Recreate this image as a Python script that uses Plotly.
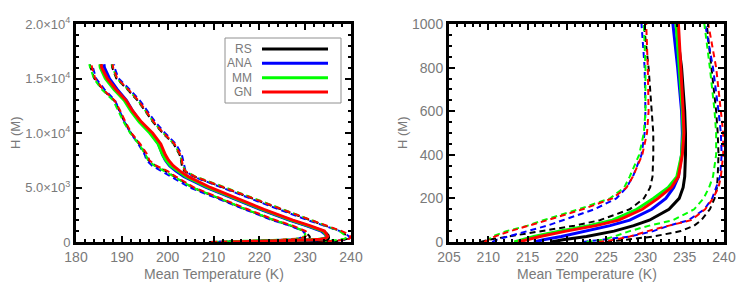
import plotly.graph_objects as go

# ---------------- data ----------------
heights = [0, 10, 25, 50, 75, 100, 150, 200, 250, 300, 400, 500, 600, 800, 1000,
           1500, 2000, 3000, 4000, 5000, 6000, 6500, 7000, 7500, 8000, 9000,
           10000, 11000, 12000, 13000, 14000, 15000, 16000, 16300]

models = ["RS", "ANA", "MM", "GN"]
colors = {"RS": "#000000", "ANA": "#0000ff", "MM": "#00ff00", "GN": "#ff0000"}

mean_RS = [218.0, 219.5, 222.5, 226.0, 228.5, 230.5, 233.0, 234.3, 234.8, 235.0, 235.1, 235.1, 235.0, 234.6, 233.9,
           230.5, 226.8, 220.5, 214.7, 208.7, 204.0, 202.2, 200.7, 199.8, 199.1, 198.1,
           196.3, 194.0, 192.2, 190.7, 188.5, 186.6, 185.5, 185.4]
mean_ANA = [215.8, 217.0, 219.3, 222.5, 225.5, 228.0, 230.8, 232.6, 233.6, 234.2, 234.6, 234.7, 234.6, 234.1, 233.5,
            230.2, 226.5, 220.2, 214.4, 208.4, 203.6, 201.8, 200.4, 199.5, 198.9, 198.0,
            196.3, 194.1, 192.4, 191.0, 189.0, 187.3, 186.2, 186.1]
mean_MM = [213.3, 214.2, 215.8, 219.0, 222.8, 225.8, 228.9, 231.0, 232.9, 234.0, 234.6, 234.8, 234.7, 234.3, 233.9,
           230.6, 226.9, 220.6, 214.8, 208.8, 204.0, 202.2, 200.6, 199.6, 198.9, 197.9,
           196.1, 193.8, 192.0, 190.5, 188.3, 186.4, 185.3, 185.2]
mean_GN = [213.8, 214.9, 216.6, 219.9, 223.7, 226.6, 229.6, 231.6, 233.3, 234.2, 234.7, 234.9, 234.8, 234.5, 234.2,
           231.0, 227.3, 221.0, 215.3, 209.3, 204.5, 202.7, 201.2, 200.2, 199.5, 198.5,
           196.7, 194.3, 192.4, 190.9, 188.7, 186.8, 185.6, 185.5]

low_RS = [209.0, 210.0, 212.5, 216.6, 221.0, 224.2, 228.0, 229.8, 230.6, 230.9, 231.0, 231.0, 230.8, 230.4, 229.8,
          226.8, 223.2, 217.0, 211.3, 205.4, 201.5, 199.6, 197.3, 195.8, 195.3, 193.8,
          192.0, 190.6, 189.5, 188.3, 185.8, 184.0, 183.2, 183.0]
low_ANA = [210.5, 211.0, 212.5, 215.0, 217.5, 219.5, 223.5, 226.3, 227.6, 228.4, 229.5, 229.9, 230.0, 229.9, 229.5,
           226.6, 222.8, 216.6, 210.8, 204.8, 200.6, 198.8, 196.6, 195.4, 195.0, 193.6,
           191.9, 190.6, 189.6, 188.5, 186.2, 184.4, 183.7, 183.6]
low_MM = [209.8, 210.0, 210.5, 212.3, 215.0, 217.0, 221.5, 225.5, 227.3, 228.0, 229.2, 229.8, 230.0, 230.0, 229.8,
          227.0, 223.3, 217.1, 211.4, 205.4, 201.4, 199.4, 197.1, 195.7, 195.2, 193.7,
          191.8, 190.4, 189.3, 188.1, 185.6, 183.9, 183.1, 182.9]
low_GN = [209.5, 210.0, 210.8, 212.8, 215.3, 217.5, 222.0, 225.8, 227.6, 228.4, 229.6, 230.2, 230.4, 230.3, 230.1,
          227.3, 223.6, 217.5, 211.8, 205.8, 201.8, 200.0, 197.5, 196.0, 195.6, 194.0,
          192.1, 190.8, 189.7, 188.4, 185.9, 184.2, 183.5, 183.4]

high_RS = [225.0, 227.5, 231.0, 234.5, 236.2, 237.1, 238.2, 238.8, 239.1, 239.2, 239.3, 239.2, 239.0, 238.4, 237.8,
           234.3, 231.0, 224.7, 218.4, 212.2, 205.8, 203.6, 203.1, 202.9, 202.6, 201.3,
           198.9, 196.8, 195.1, 193.4, 191.2, 188.8, 187.9, 187.8]
high_ANA = [222.0, 224.5, 228.0, 231.0, 233.0, 235.5, 237.5, 238.5, 239.0, 239.5, 239.7, 239.6, 239.3, 238.6, 237.6,
            234.0, 230.6, 224.2, 218.0, 211.8, 205.6, 203.9, 203.6, 203.4, 203.1, 201.8,
            199.4, 197.3, 195.6, 193.9, 191.7, 189.3, 188.4, 188.3]
high_MM = [222.5, 224.5, 226.0, 228.0, 230.5, 233.5, 236.2, 237.4, 238.1, 238.6, 239.0, 239.0, 238.8, 238.2, 237.5,
           234.5, 231.4, 225.1, 218.8, 212.6, 206.1, 203.9, 203.3, 203.0, 202.7, 201.4,
           199.0, 196.9, 195.2, 193.5, 191.3, 188.9, 188.0, 187.9]
high_GN = [224.0, 226.0, 228.0, 230.3, 233.0, 235.8, 237.6, 238.6, 239.3, 239.6, 239.9, 239.9, 239.6, 239.0, 238.0,
           234.6, 231.4, 225.0, 218.7, 212.5, 206.0, 203.8, 203.3, 203.1, 202.8, 201.5,
           199.1, 197.0, 195.3, 193.6, 191.4, 189.0, 188.1, 188.0]

means = {"RS": mean_RS, "ANA": mean_ANA, "MM": mean_MM, "GN": mean_GN}
lows = {"RS": low_RS, "ANA": low_ANA, "MM": low_MM, "GN": low_GN}
highs = {"RS": high_RS, "ANA": high_ANA, "MM": high_MM, "GN": high_GN}

left_xticks = [180, 190, 200, 210, 220, 230, 240]
left_yticks = [0, 5000, 10000, 15000, 20000]
left_ytext = ["0", "5.0×10<sup>3</sup>", "1.0×10<sup>4</sup>", "1.5×10<sup>4</sup>", "2.0×10<sup>4</sup>"]
right_xticks = [205, 210, 215, 220, 225, 230, 235, 240]
right_yticks = [0, 200, 400, 600, 800, 1000]

# ---------------- figure ----------------
OFF = 8                       # page body margin of the html page
W, H = 747 - OFF, 291 - OFF
FONT = "Liberation Sans, Arial, sans-serif"
GRAY = "#7a7a7a"
DASH = "6px,4px"

fig = go.Figure()
for xa, ya in [("x", "y"), ("x2", "y2")]:
    for m in models:
        for series in (lows[m], highs[m]):
            fig.add_trace(go.Scatter(x=series, y=heights, mode="lines", xaxis=xa, yaxis=ya,
                                     line=dict(color=colors[m], width=2, dash=DASH),
                                     showlegend=False, hoverinfo="skip"))
    for m in models:
        fig.add_trace(go.Scatter(x=means[m], y=heights, mode="lines", xaxis=xa, yaxis=ya,
                                 line=dict(color=colors[m], width=3),
                                 showlegend=False, hoverinfo="skip"))

def px_x(p):
    return (p - OFF) / W

def px_y(p):
    return 1 - (p - OFF) / H

axis_common = dict(showline=True, linecolor="black", linewidth=3, mirror="allticks",
                   ticks="inside", ticklen=6, tickwidth=2, tickcolor="black",
                   showgrid=False, zeroline=False, layer="above traces", automargin=False,
                   fixedrange=True)
tickfont14 = dict(family=FONT, size=14, color=GRAY)
tickfont13 = dict(family=FONT, size=13, color=GRAY)

fig.update_layout(
    width=W, height=H, margin=dict(l=0, r=0, t=0, b=0, pad=0, autoexpand=False),
    paper_bgcolor="white", plot_bgcolor="white", showlegend=False,
    xaxis=dict(domain=[px_x(76), px_x(351)], range=[180, 240], tickvals=left_xticks,
               minor=dict(ticks="inside", ticklen=3, tickwidth=1.5, dtick=2, tickcolor="black"),
               anchor="y", tickfont=tickfont14, **axis_common),
    yaxis=dict(domain=[px_y(242), px_y(24)], range=[0, 20000], tickvals=left_yticks, ticktext=left_ytext,
               minor=dict(ticks="inside", ticklen=3, tickwidth=1.5, dtick=1000, tickcolor="black"),
               anchor="x", tickfont=tickfont13, **axis_common),
    xaxis2=dict(domain=[px_x(449), px_x(724)], range=[205, 240], tickvals=right_xticks,
                minor=dict(ticks="inside", ticklen=3, tickwidth=1.5, dtick=1, tickcolor="black"),
                anchor="y2", tickfont=tickfont14, **axis_common),
    yaxis2=dict(domain=[px_y(242), px_y(24)], range=[0, 1000], tickvals=right_yticks,
                minor=dict(ticks="inside", ticklen=3, tickwidth=1.5, dtick=50, tickcolor="black"),
                anchor="x2", tickfont=tickfont14, **axis_common),
)

annotations = []
for cx in [(76 + 351) / 2, (449 + 724) / 2]:
    annotations.append(dict(text="Mean Temperature (K)", x=px_x(cx), y=px_y(274), xref="paper", yref="paper",
                            showarrow=False, xanchor="center", yanchor="middle",
                            font=dict(family=FONT, size=14, color=GRAY)))
for cx in [15, 402]:
    annotations.append(dict(text="H (M)", x=px_x(cx), y=px_y(133), xref="paper", yref="paper",
                            showarrow=False, xanchor="center", yanchor="middle", textangle=-90,
                            font=dict(family=FONT, size=13, color=GRAY)))

# legend: text right-aligned, line sample to the right (as in the reference)
shapes = [dict(type="rect", xref="paper", yref="paper", x0=px_x(225), x1=px_x(341),
               y0=px_y(103), y1=px_y(38), line=dict(color="#909090", width=1), fillcolor="white",
               layer="above")]
leg_y = [49, 63.3, 77.7, 92]
for m, ly in zip(models, leg_y):
    annotations.append(dict(text=m, x=px_x(254), y=px_y(ly), xref="paper", yref="paper",
                            showarrow=False, xanchor="right", yanchor="middle",
                            font=dict(family=FONT, size=12, color=GRAY)))
    shapes.append(dict(type="line", xref="paper", yref="paper", x0=px_x(262), x1=px_x(328),
                       y0=px_y(ly), y1=px_y(ly), line=dict(color=colors[m], width=3), layer="above"))

fig.update_layout(annotations=annotations, shapes=shapes)
fig.write_html("out.html")
